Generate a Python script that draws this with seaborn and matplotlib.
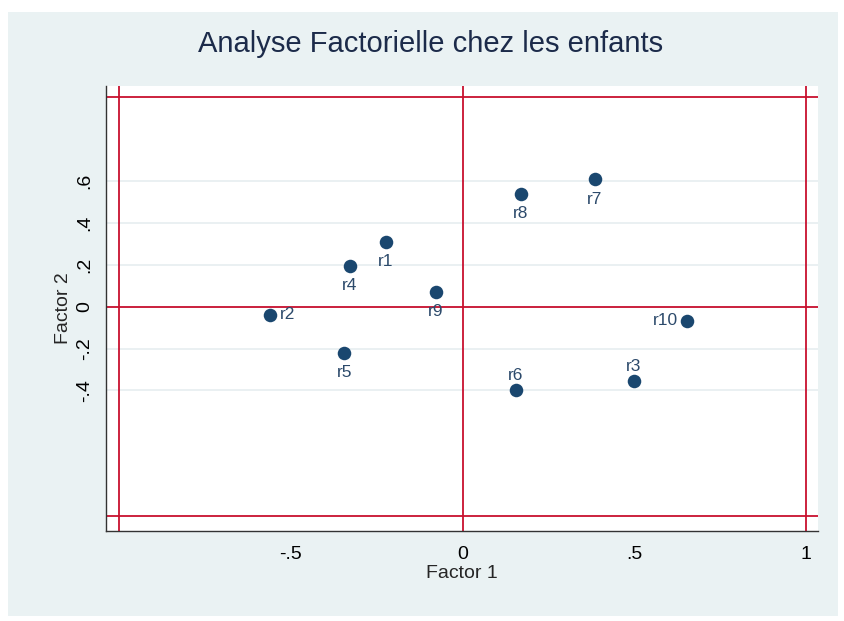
import matplotlib.pyplot as plt
import matplotlib.patches as patches
import seaborn as sns
import pandas as pd

# factor loadings
labels = ['r1', 'r2', 'r3', 'r4', 'r5', 'r6', 'r7', 'r8', 'r9', 'r10']
factor1 = [-0.224, -0.562, 0.498, -0.329, -0.344, 0.154, 0.384, 0.169, -0.079, 0.652]
factor2 = [0.309, -0.040, -0.355, 0.194, -0.221, -0.398, 0.609, 0.538, 0.070, -0.068]
# where the label sits relative to the marker
label_pos = ['below', 'right', 'above', 'below', 'below', 'above', 'below', 'below', 'below', 'left']

xticks = [-0.5, 0, 0.5, 1]
xticklabels = ['-.5', '0', '.5', '1']
yticks = [-0.4, -0.2, 0, 0.2, 0.4, 0.6]
yticklabels = ['-.4', '-.2', '0', '.2', '.4', '.6']
ref_lines = [-1, 0, 1]

df = pd.DataFrame({'Factor 1': factor1, 'Factor 2': factor2, 'label': labels, 'pos': label_pos})

sns.set_style('white')
plt.rcParams['font.family'] = ['Liberation Sans', 'DejaVu Sans']

bg = '#eaf2f3'
navy = '#1a476f'
red = '#c8102e'

fig = plt.figure(figsize=(8.45, 6.21), dpi=100)
fig.patch.set_facecolor('white')
fig.add_artist(patches.Rectangle((8/845, 1-616/621), 830/845, 604/621,
                                 transform=fig.transFigure, facecolor=bg,
                                 edgecolor='none', zorder=-10))
ax = fig.add_axes([106/845, 1-531/621, 712/845, 445/621])
ax.set_facecolor('white')

for yv in yticks:
    ax.axhline(yv, color='#e6eef0', lw=1.2, zorder=0)
for v in ref_lines:
    ax.axhline(v, color=red, lw=1.3, zorder=1)
    ax.axvline(v, color=red, lw=1.3, zorder=1)

sns.scatterplot(data=df, x='Factor 1', y='Factor 2', color=navy, s=95,
                edgecolor=navy, linewidth=0, ax=ax, zorder=3)

offsets = {'below': (0, -9, 'center', 'top'), 'above': (0, 5, 'center', 'bottom'),
           'right': (7.5, 0, 'left', 'center'), 'left': (-6.5, 0, 'right', 'center')}
for _, row in df.iterrows():
    dx, dy, ha, va = offsets[row['pos']]
    ax.annotate(row['label'], (row['Factor 1'], row['Factor 2']), xytext=(dx, dy),
                textcoords='offset points', ha=ha, va=va, fontsize=12.5,
                color='#2c4a6b', zorder=4)

ax.set_xlim(-1.038, 1.034)
ax.set_ylim(-1.071, 1.053)
ax.set_xticks(xticks)
ax.set_xticklabels(xticklabels)
ax.set_yticks(yticks)
ax.set_yticklabels(yticklabels, rotation=90, va='center')
ax.tick_params(axis='both', length=5, width=1, color='#555555', labelsize=14,
               labelcolor='black', direction='out')
ax.tick_params(axis='x', pad=6)
ax.tick_params(axis='y', pad=4)

for side in ['top', 'right']:
    ax.spines[side].set_visible(False)
for side in ['left', 'bottom']:
    ax.spines[side].set_color('#333333')
    ax.spines[side].set_linewidth(1.0)

ax.set_xlabel('Factor 1', fontsize=14, labelpad=1)
ax.set_ylabel('Factor 2', fontsize=14, labelpad=3)
fig.text(431/845, 1-44/621, 'Analyse Factorielle chez les enfants', ha='center',
         va='center', fontsize=21, color='#1c2b4a')

fig.savefig('out.png', dpi=100, facecolor=fig.get_facecolor())
